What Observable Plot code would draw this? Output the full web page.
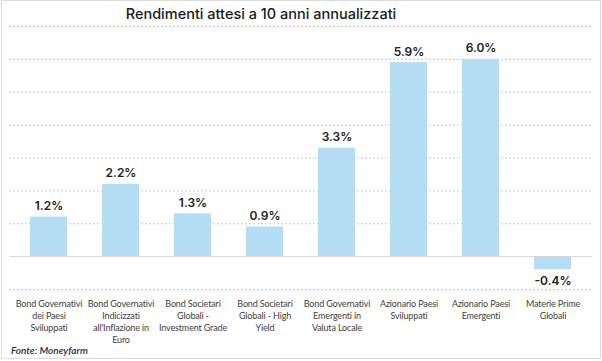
<!DOCTYPE html>
<html>
<head>
<meta charset="utf-8">
<script src="https://cdn.jsdelivr.net/npm/d3@7"></script>
<script src="https://cdn.jsdelivr.net/npm/@observablehq/plot@0.6"></script>
<style>
  html, body { margin: 0; padding: 0; background: #fff; }
  #wrap { position: relative; width: 602px; height: 361px; overflow: hidden; }
  #frame { position: absolute; left: 1px; top: 0px; width: 598px; height: 357px; border: 1px solid #dcdcdc; box-sizing: content-box; }
  #title { position: absolute; left: 0; top: 5px; width: 522px; text-align: center; font-family: Inter, "Open Sans", sans-serif; font-weight: 500; font-size: 14.5px; color: #1a1a1a; }
  #caption { position: absolute; left: 11px; top: 344px; font-family: Lato, sans-serif; font-style: italic; font-weight: 600; font-size: 10px; color: #1f2a3a; }
  #chart { position: absolute; left: 0; top: 0; }
  #chart svg g[aria-label="x-axis tick label"] text { letter-spacing: -0.15px; }
</style>
</head>
<body>
<div id="wrap">
  <div id="frame"></div>
  <div id="chart"></div>
  <div id="title">Rendimenti attesi a 10 anni annualizzati</div>
  <div id="caption">Fonte: Moneyfarm</div>
</div>
<script>
const categories = [
  "Bond Governativi dei Paesi Sviluppati",
  "Bond Governativi Indicizzati all'Inflazione in Euro",
  "Bond Societari Globali - Investment Grade",
  "Bond Societari Globali - High Yield",
  "Bond Governativi Emergenti in Valuta Locale",
  "Azionario Paesi Sviluppati",
  "Azionario Paesi Emergenti",
  "Materie Prime Globali"
];
const tickLabels = [
  "Bond Governativi\ndei Paesi\nSviluppati",
  "Bond Governativi\nIndicizzati\nall'Inflazione in\nEuro",
  "Bond Societari\nGlobali -\nInvestment Grade",
  "Bond Societari\nGlobali - High\nYield",
  "Bond Governativi\nEmergenti in\nValuta Locale",
  "Azionario Paesi\nSviluppati",
  "Azionario Paesi\nEmergenti",
  "Materie Prime\nGlobali"
];
const values = [1.2, 2.2, 1.3, 0.9, 3.3, 5.9, 6.0, -0.4];
const gridTicks = [-1, 1, 2, 3, 4, 5, 6, 7];

const data = categories.map((c, i) => ({cat: c, v: values[i], label: values[i].toFixed(1) + "%"}));

const chart = Plot.plot({
  width: 602,
  height: 361,
  marginTop: 26,
  marginBottom: 72,
  marginLeft: 9,
  marginRight: 10,
  style: {background: "transparent", overflow: "visible"},
  x: {domain: categories, paddingInner: 0.49, paddingOuter: 0.245},
  y: {domain: [-1, 7]},
  marks: [
    Plot.ruleY(gridTicks, {stroke: "#c8c8c8", strokeDasharray: "2,2", strokeWidth: 1}),
    Plot.barY(data, {x: "cat", y: "v", fill: "#b4dcf2"}),
    Plot.ruleY([0], {stroke: "#d6d6d6", strokeWidth: 1}),
    Plot.text(data.filter(d => d.v >= 0), {x: "cat", y: "v", text: "label", lineAnchor: "bottom", dy: -7, fontSize: 12, fontWeight: 600, fill: "#222", fontFamily: "Inter, sans-serif"}),
    Plot.text(data.filter(d => d.v < 0), {x: "cat", y: "v", text: "label", lineAnchor: "top", dy: 7, fontSize: 12, fontWeight: 600, fill: "#222", fontFamily: "Inter, sans-serif"}),
    Plot.axisX({tickSize: 0, tickPadding: 9, tickFormat: (d) => tickLabels[categories.indexOf(d)], fontSize: 9, lineHeight: 1.33, fill: "#404040", fontFamily: "Lato, sans-serif", label: null}),
    Plot.axisY({ticks: [], label: null})
  ]
});
document.getElementById("chart").appendChild(chart);
</script>
</body>
</html>
